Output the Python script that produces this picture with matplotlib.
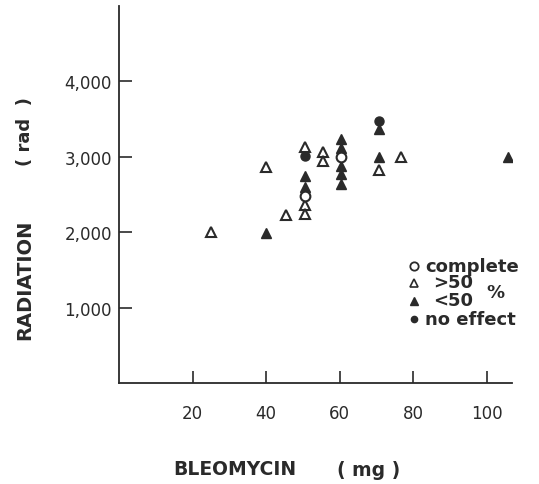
import matplotlib
matplotlib.use("Agg")
import matplotlib.pyplot as plt

# ---- data ----
complete_x = [50.5, 60.5]
complete_y = [2480, 3000]

gt50_x = [25, 40, 45.3, 50.5, 50.5, 50.5, 55.5, 55.5, 70.8, 76.7]
gt50_y = [2000, 2860, 2230, 3125, 2360, 2245, 3065, 2945, 2830, 3000]

lt50_x = [40, 50.5, 50.5, 60.5, 60.5, 60.5, 60.5, 60.5, 70.8, 70.8, 105.7]
lt50_y = [1995, 2750, 2595, 3235, 3115, 2880, 2765, 2645, 3365, 2995, 2995]

noeffect_x = [50.5, 70.8]
noeffect_y = [3015, 3470]

x_ticks = [20, 40, 60, 80, 100]
y_ticks = [1000, 2000, 3000, 4000]
y_tick_labels = ["1,000", "2,000", "3,000", "4,000"]

legend_labels = ["complete", ">50", "<50", "no effect"]

# ---- figure ----
W, H = 539, 485
fig = plt.figure(figsize=(W / 100, H / 100), dpi=100)
left, right, top, bottom = 119, 512.3, 6.7, 384.2
ax = fig.add_axes([left / W, 1 - bottom / H, (right - left) / W, (bottom - top) / H])

ink = "#2a2a2a"
ax.set_xlim(0, 107)
ax.set_ylim(0, 5000)

ax.plot(gt50_x, gt50_y, linestyle="none", marker="^", markersize=7,
        markerfacecolor="white", markeredgecolor=ink, markeredgewidth=1.5, zorder=3)
ax.plot(lt50_x, lt50_y, linestyle="none", marker="^", markersize=7,
        markerfacecolor=ink, markeredgecolor=ink, markeredgewidth=1.0, zorder=3)
ax.plot(complete_x, complete_y, linestyle="none", marker="o", markersize=7,
        markerfacecolor="white", markeredgecolor=ink, markeredgewidth=1.5, zorder=4)
ax.plot(noeffect_x, noeffect_y, linestyle="none", marker="o", markersize=6.5,
        markerfacecolor=ink, markeredgecolor=ink, markeredgewidth=1.0, zorder=4)

for s in ["top", "right"]:
    ax.spines[s].set_visible(False)
for s in ["left", "bottom"]:
    ax.spines[s].set_linewidth(1.3)
    ax.spines[s].set_color(ink)

ax.set_xticks(x_ticks)
ax.set_xticklabels([str(v) for v in x_ticks])
ax.set_yticks(y_ticks)
ax.set_yticklabels(y_tick_labels)
ax.tick_params(axis="both", direction="in", length=9, width=1.2, color=ink,
               labelsize=12, labelcolor=ink)
ax.tick_params(axis="x", pad=15)
ax.tick_params(axis="y", pad=5)

# axis titles
fig.text(25 / W, 1 - 280 / H, "RADIATION", rotation=90, ha="center", va="center",
         fontsize=14, fontweight="bold", color=ink)
fig.text(25 / W, 1 - 132 / H, "( rad  )", rotation=90, ha="center", va="center",
         fontsize=13, fontweight="bold", color=ink)
fig.text(235 / W, 1 - 470 / H, "BLEOMYCIN", ha="center", va="center",
         fontsize=13.5, fontweight="bold", color=ink)
fig.text(369 / W, 1 - 471 / H, "( mg )", ha="center", va="center",
         fontsize=13.5, fontweight="bold", color=ink)

# legend (manual)
def fx(px):
    return (px - left) / (right - left)

def fy(py):
    return (bottom - py) / (bottom - top)

rows = [266.7, 283.5, 301.5, 320]
styles = [
    dict(marker="o", markerfacecolor="white", markeredgewidth=1.3, markersize=6),
    dict(marker="^", markerfacecolor="white", markeredgewidth=1.2, markersize=5.5),
    dict(marker="^", markerfacecolor=ink, markeredgewidth=1.0, markersize=5.5),
    dict(marker="o", markerfacecolor=ink, markeredgewidth=1.0, markersize=4.5),
]
text_x = [425, 433, 433, 425]
for row, st, lab, tx in zip(rows, styles, legend_labels, text_x):
    ax.plot([fx(414)], [fy(row)], transform=ax.transAxes, linestyle="none",
            markeredgecolor=ink, clip_on=False, **st)
    ax.text(fx(tx), fy(row), lab, transform=ax.transAxes, ha="left", va="center",
            fontsize=13, fontweight="bold", color=ink)
ax.text(fx(495), fy(293), "%", transform=ax.transAxes, ha="center", va="center",
        fontsize=13, fontweight="bold", color=ink)

fig.save_fig = None
fig.savefig("out.png", dpi=100)
